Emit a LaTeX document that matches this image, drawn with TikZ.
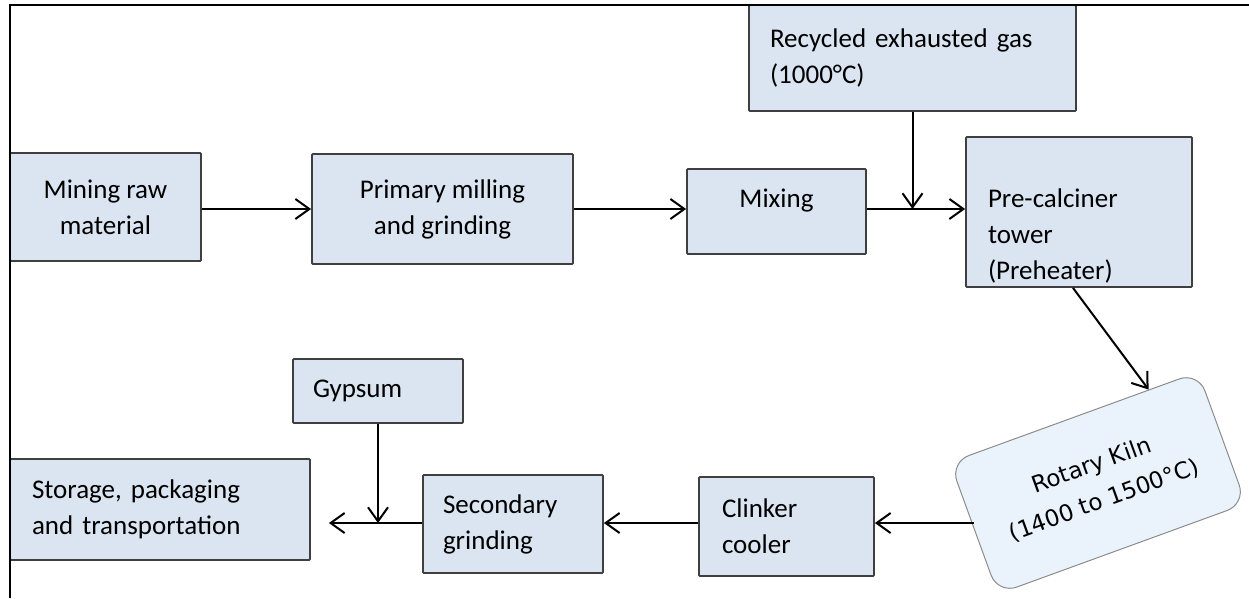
\documentclass[tikz,border=0pt]{standalone}
\usepackage{fontspec}
\setmainfont{Carlito}
\newfontfamily\kilnfont{DejaVu Sans}
\usetikzlibrary{arrows.meta,calc}

\definecolor{stagefill}{HTML}{DBE5F1}
\definecolor{stageline}{HTML}{3F3F3F}
\definecolor{kilnfill}{HTML}{EAF3FC}
\definecolor{kilnline}{HTML}{8C8C8C}

\begin{document}
\begin{tikzpicture}[x=1pt, y=-1pt,
    stage/.style={draw=stageline, fill=stagefill, line width=1.8pt, rounded corners=1pt,
      inner ysep=0pt, font=\fontsize{27pt}{36pt}\selectfont},
    kilnbox/.style={draw=kilnline, fill=kilnfill, line width=1pt, rounded corners=20pt,
      rotate=20, align=center, minimum width=264pt, minimum height=140pt,
      font=\kilnfont\fontsize{23pt}{37pt}\selectfont},
    flow/.style={-{Straight Barb[length=14pt,width=20pt]}, line width=2pt}]
    \useasboundingbox (0,0) rectangle (1249,598);

    %---- rows the arrows run along
    \coordinate (row1) at (0,209);
    \coordinate (row2) at (0,523);

    %---- top line of the process
    \node[stage, align=center, minimum width=191pt, minimum height=108pt] (mine) at (105.5,207) {Mining raw\\material};
    \node[stage, align=center, minimum width=261pt, minimum height=110pt] (mill) at (442.5,209) {Primary milling\\and grinding};
    \node[stage, align=center, minimum width=179pt, minimum height=85pt, text depth=27pt] (mix) at (776.5,211.5) {Mixing};
    \node[stage, align=left, text width=285pt, inner xsep=21pt, minimum height=106pt] (gas) at (912.5,58) {Recycled exhausted gas\\(1000°C)};
    \node[stage, align=left, text width=182pt, inner xsep=22pt, minimum height=150pt, text depth=27pt] (pre) at (1079,212) {Pre-calciner\\tower\\(Preheater)};

    %---- kiln (tilted)
    \node[kilnbox] (kiln) at (1098,483) {Rotary Kiln\\(1400 to 1500°C)};

    %---- bottom line of the process
    \node[stage, align=left, text width=129pt, inner xsep=23pt, minimum height=99pt] (cool) at (786.5,526.5) {Clinker\\cooler};
    \node[stage, align=left, text width=140pt, inner xsep=20pt, minimum height=98pt] (sec) at (513,524) {Secondary\\grinding};
    \node[stage, align=left, text width=130pt, inner xsep=20pt, minimum height=64pt] (gyp) at (378,391) {Gypsum};
    \node[stage, align=left, text width=256pt, inner xsep=22pt, minimum height=101pt] (store) at (160,509.5) {Storage, packaging\\and transportation};

    %---- arrows
    \draw[flow] (mine.east |- row1) -- (mill.west |- row1);
    \draw[flow] (mill.east |- row1) -- (mix.west |- row1);
    \draw[flow] (mix.east |- row1) -- (pre.west |- row1);
    \draw[flow] (gas.south) -- (gas.south |- row1);
    \draw[flow] ($(pre.south)+(-6,0)$) -- ($(kiln.north)!0.6!(kiln.north east)$);
    \draw[flow] (kiln.west |- row2) -- (cool.east |- row2);
    \draw[flow] (cool.west |- row2) -- (sec.east |- row2);
    \draw[flow] (sec.west |- row2) -- ($(store.east |- row2)+(18,0)$);
    \draw[flow] (gyp.south) -- (gyp.south |- row2);

    %---- frame
    \draw[line width=2pt] (10,598) -- (10,5) -- (1249,5);
\end{tikzpicture}
\end{document}
